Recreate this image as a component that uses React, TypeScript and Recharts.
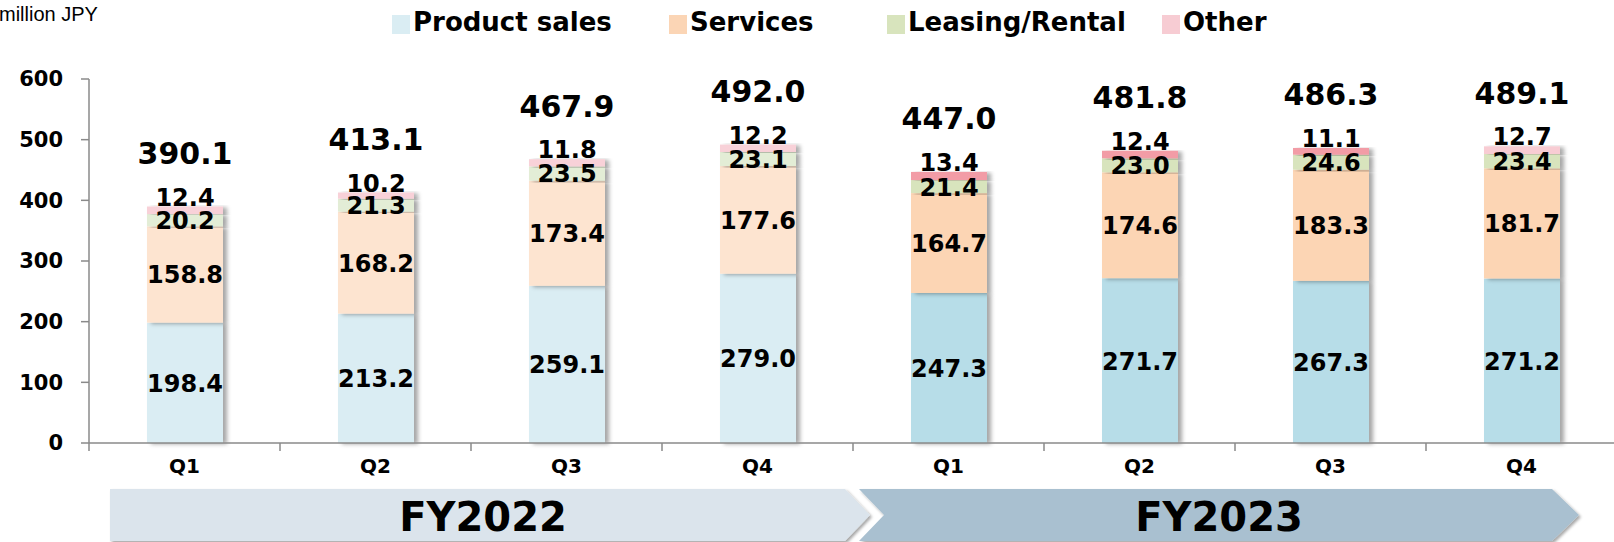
import React from "react";
import { Bar, BarChart, Cell, LabelList, Legend, XAxis, YAxis } from "recharts";

// FY2022 Q1..Q4, FY2023 Q1..Q4 (million JPY)
const years = ["FY2022", "FY2022", "FY2022", "FY2022", "FY2023", "FY2023", "FY2023", "FY2023"];
const quarters = ["Q1", "Q2", "Q3", "Q4", "Q1", "Q2", "Q3", "Q4"];
const productSales = [198.4, 213.2, 259.1, 279.0, 247.3, 271.7, 267.3, 271.2];
const services = [158.8, 168.2, 173.4, 177.6, 164.7, 174.6, 183.3, 181.7];
const leasing = [20.2, 21.3, 23.5, 23.1, 21.4, 23.0, 24.6, 23.4];
const other = [12.4, 10.2, 11.8, 12.2, 13.4, 12.4, 11.1, 12.7];
const totals = [390.1, 413.1, 467.9, 492.0, 447.0, 481.8, 486.3, 489.1];
const yTicks = [0, 100, 200, 300, 400, 500, 600];
const seriesNames = ["Product sales", "Services", "Leasing/Rental", "Other"];

const data = quarters.map((q, i) => ({
  key: `${years[i]} ${q}`,
  quarter: q,
  year: years[i],
  product: productSales[i],
  services: services[i],
  leasing: leasing[i],
  other: other[i],
  total: totals[i],
}));

const PALETTE: Record<string, { product: string; services: string; leasing: string; other: string }> = {
  FY2022: { product: "#daedf3", services: "#fde4d0", leasing: "#e3edd6", other: "#f8d1d8" },
  FY2023: { product: "#b7dde8", services: "#fcd5b4", leasing: "#d8e4bd", other: "#f29ca6" },
};
// last quarter's "other" slice is drawn in the lighter pink
const otherFill = (i: number) => (i === 7 ? "#f8ccd3" : PALETTE[years[i]].other);

const BOLD = "'DejaVu Sans', Verdana, sans-serif";
const AXIS = "#8a8a8a";
const CHART_W = 1630;
const Y_AXIS_W = 89;
const RIGHT = 13;
const BAND = (CHART_W - Y_AXIS_W - RIGHT) / data.length;

const ShadowRect = (props: any) => {
  const { x, y, width, height, fill } = props;
  if (!height) return null;
  return <rect x={x} y={y} width={width} height={height} fill={fill} filter="url(#barShadow)" />;
};

const QuarterTick = (props: any) => {
  const { x, y, payload } = props;
  const q = payload.value.split(" ")[1];
  return (
    <g>
      <line x1={x - BAND / 2} x2={x - BAND / 2} y1={y} y2={y + 8} stroke={AXIS} strokeWidth={1.5} />
      <text x={x} y={y + 23} textAnchor="middle" dominantBaseline="central" fontFamily={BOLD} fontWeight={700} fontSize={20} fill="#000">
        {q}
      </text>
    </g>
  );
};

const centerLabel = (props: any) => {
  const { x, y, width, height, value } = props;
  return (
    <text x={x + width / 2} y={y + height / 2 + 1} textAnchor="middle" dominantBaseline="central" fontFamily={BOLD} fontWeight={700} fontSize={24} fill="#000">
      {Number(value).toFixed(1)}
    </text>
  );
};

const topLabel = (props: any) => {
  const { x, y, width, value } = props;
  return (
    <text x={x + width / 2} y={y - 9} textAnchor="middle" dominantBaseline="central" fontFamily={BOLD} fontWeight={700} fontSize={24} fill="#000">
      {Number(value).toFixed(1)}
    </text>
  );
};

const totalLabel = (props: any) => {
  const { x, y, width, value } = props;
  return (
    <text x={x + width / 2} y={y - 53} textAnchor="middle" dominantBaseline="central" fontFamily={BOLD} fontWeight={700} fontSize={30} fill="#000">
      {Number(value).toFixed(1)}
    </text>
  );
};

const LEGEND_LEFT = 392;
const LEGEND_SLOTS = [277, 218, 275, 130];

const renderLegend = (props: any) => {
  const items = [...(props.payload || [])].sort(
    (a: any, b: any) => seriesNames.indexOf(a.value) - seriesNames.indexOf(b.value)
  );
  return (
    <div style={{ position: "absolute", top: 6, left: LEGEND_LEFT, display: "flex", flexWrap: "nowrap", whiteSpace: "nowrap" }}>
      {items.map((it: any, i: number) => (
        <div key={it.value} style={{ width: LEGEND_SLOTS[i], flex: "none", display: "flex", alignItems: "center" }}>
          <span style={{ width: 18, height: 19, background: it.color, marginRight: 3, marginTop: 4, flex: "none" }} />
          <span style={{ fontFamily: BOLD, fontWeight: 700, fontSize: 26, color: "#000", lineHeight: "32px" }}>{it.value}</span>
        </div>
      ))}
    </div>
  );
};

const FiscalArrows = () => (
  <svg width={1614} height={542} style={{ position: "absolute", left: 0, top: 0 }}>
    <defs>
      <filter id="arrowShadow" x="-5%" y="-20%" width="110%" height="150%">
        <feDropShadow dx={2} dy={2} stdDeviation={1.5} floodColor="#000" floodOpacity={0.35} />
      </filter>
    </defs>
    <polygon points="110,489 845,489 870,515 845,541 110,541" fill="#dbe4ec" filter="url(#arrowShadow)" />
    <polygon points="859,489 1552,489 1579,515 1552,541 859,541 884,515" fill="#a9c0d0" filter="url(#arrowShadow)" />
    <text x={483} y={517} textAnchor="middle" dominantBaseline="central" fontFamily={BOLD} fontWeight={700} fontSize={40} fill="#000">
      FY2022
    </text>
    <text x={1219} y={517} textAnchor="middle" dominantBaseline="central" fontFamily={BOLD} fontWeight={700} fontSize={40} fill="#000">
      FY2023
    </text>
  </svg>
);

export default function App() {
  return (
    <div style={{ position: "absolute", left: 0, top: 0, width: 1614, height: 542, overflow: "hidden", background: "#fff" }}>
      <FiscalArrows />
      <div style={{ position: "absolute", left: -1, top: 3, fontFamily: "'Liberation Sans', Arial, sans-serif", fontSize: 20, color: "#000" }}>
        million JPY
      </div>
      <div style={{ position: "absolute", left: 0, top: 0 }}>
        <BarChart width={CHART_W} height={542} data={data} margin={{ top: 79, right: RIGHT, bottom: 69, left: 0 }} barSize={76}>
          <defs>
            <filter id="barShadow" x="-10%" y="-10%" width="130%" height="120%">
              <feDropShadow dx={4} dy={1} stdDeviation={2} floodColor="#000" floodOpacity={0.35} />
            </filter>
          </defs>
          <Legend
            verticalAlign="top"
            content={renderLegend}
            wrapperStyle={{ position: "absolute", top: 0, left: 0, width: 1614, height: 0 }}
          />
          <XAxis
            dataKey="key"
            axisLine={{ stroke: AXIS, strokeWidth: 1.5 }}
            tickLine={false}
            tickSize={0}
            tickMargin={0}
            height={30}
            interval={0}
            tick={<QuarterTick />}
          />
          <YAxis
            width={Y_AXIS_W}
            domain={[0, 600]}
            ticks={yTicks}
            axisLine={{ stroke: AXIS, strokeWidth: 1.5 }}
            tickLine={{ stroke: AXIS, strokeWidth: 1.5 }}
            tickSize={8}
            tickMargin={18}
            tick={{ fontFamily: BOLD, fontWeight: 700, fontSize: 21, fill: "#000" }}
          />
          <Bar dataKey="product" name={seriesNames[0]} stackId="a" fill="#daedf3" shape={<ShadowRect />} isAnimationActive={false}>
            {data.map((d) => (
              <Cell key={d.key} fill={PALETTE[d.year].product} />
            ))}
            <LabelList dataKey="product" content={centerLabel} />
          </Bar>
          <Bar dataKey="services" name={seriesNames[1]} stackId="a" fill="#fbd5b5" shape={<ShadowRect />} isAnimationActive={false}>
            {data.map((d) => (
              <Cell key={d.key} fill={PALETTE[d.year].services} />
            ))}
            <LabelList dataKey="services" content={centerLabel} />
          </Bar>
          <Bar dataKey="leasing" name={seriesNames[2]} stackId="a" fill="#d8e4bd" shape={<ShadowRect />} isAnimationActive={false}>
            {data.map((d) => (
              <Cell key={d.key} fill={PALETTE[d.year].leasing} />
            ))}
            <LabelList dataKey="leasing" content={centerLabel} />
          </Bar>
          <Bar dataKey="other" name={seriesNames[3]} stackId="a" fill="#f7ccd3" shape={<ShadowRect />} isAnimationActive={false}>
            {data.map((d, i) => (
              <Cell key={d.key} fill={otherFill(i)} />
            ))}
            <LabelList dataKey="other" content={topLabel} />
            <LabelList dataKey="total" content={totalLabel} />
          </Bar>
        </BarChart>
      </div>
    </div>
  );
}
